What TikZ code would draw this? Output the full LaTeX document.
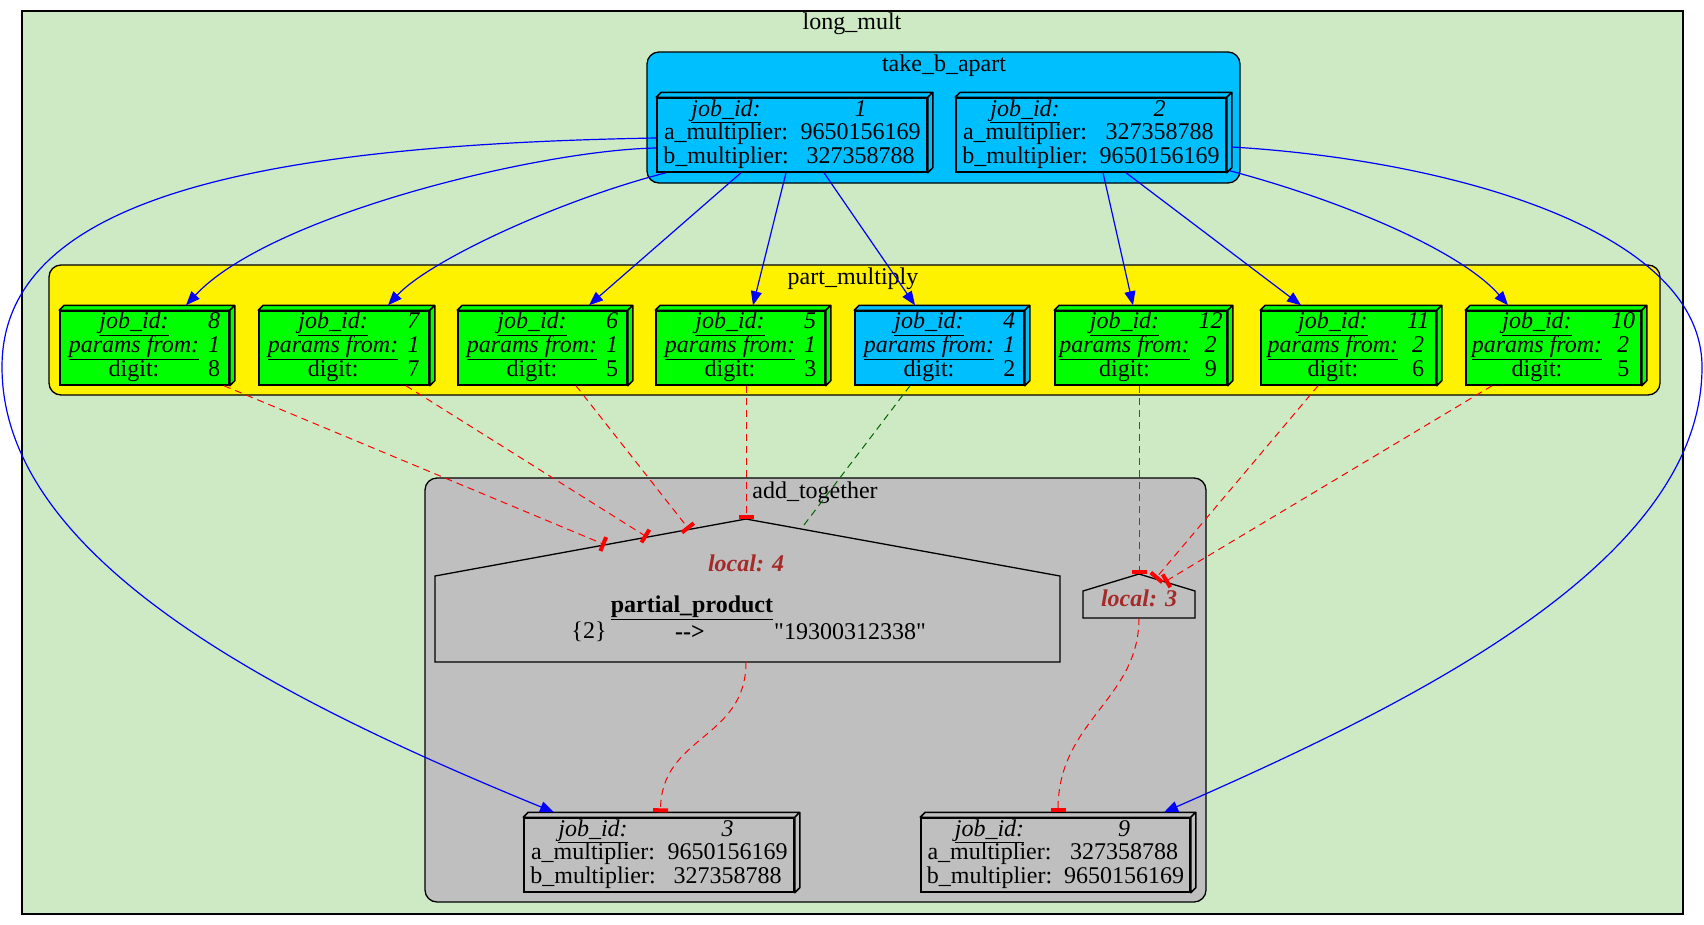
\documentclass[tikz,border=0pt]{standalone}
\usepackage{fontspec}
\setmainfont{Liberation Serif}
\newfontfamily\rawserif{Liberation Serif}
\usepackage{xcolor}
\usepackage{tikz}
\usetikzlibrary{calc, arrows.meta}

\definecolor{bgmult}{RGB}{205,234,197}
\definecolor{skyb}{RGB}{0,191,255}
\definecolor{grpart}{RGB}{0,255,0}
\definecolor{grayadd}{RGB}{191,191,191}
\definecolor{locbrown}{RGB}{165,42,42}
\definecolor{dkgreen}{RGB}{0,100,0}

% Bảng của một job: id, a_multiplier, b_multiplier
\newcommand\jobtab[3]{\raisebox{2.5pt}{\begin{tabular}{@{}c@{\hspace{12pt}}c@{}}
  \underline{\textit{job\_id:}} & \textit{#1}\\
  a\_multiplier: & #2\\
  b\_multiplier: & #3
\end{tabular}}}
% Bảng của một part_multiply: id, params from, digit
\newcommand\parttab[3]{\raisebox{2.5pt}{\begin{tabular}{@{}c@{\hspace{9pt}}c@{}}
  \underline{\textit{job\_id:}} & \textit{#1}\\
  \underline{\textit{params from:}} & \textit{#2}\\
  digit: & #3
\end{tabular}}}
% Mặt trên và mặt bên của hộp 3D
\newcommand\boxside[2]{%
  \draw[line width=1.5pt, line join=round, fill=#2]
    (#1.north west) -- ++(5,5) -- ($(#1.north east)+(5,5)$) -- ($(#1.south east)+(5,5)$)
    -- (#1.south east) -- (#1.north east) -- cycle
    (#1.north east) -- ++(5,5);}

\begin{document}
\begin{tikzpicture}[x=1pt, y=1pt, >={Triangle[length=14pt,width=11pt]},
    every node/.style={font=\fontsize{24}{23.5}\selectfont},
    cube/.style={draw, line width=1.5pt, inner sep=0pt, minimum height=74pt},
    clus/.style={draw, line width=1.3pt, rounded corners=12pt},
    feed/.style={->, blue, line width=1.2pt},
    dep/.style={red, line width=1pt, dash pattern=on 7pt off 5pt, -{Bar[width=15pt,line width=4pt]}},
    link/.style={dkgreen, line width=1pt, dash pattern=on 7pt off 5pt},
    house/.style={draw, line width=1.3pt, line join=miter},
    loc/.style={text=locbrown, font=\fontsize{24}{28}\selectfont\bfseries\itshape}]
    \useasboundingbox (0,0) rectangle (1704,-924);

    % Khung ngoài long_mult
    \draw[line width=2.5pt, fill=bgmult] (22,-11) rectangle (1683,-914);
    \node (tmult) at (852,-24) {long\_mult};

    % Cụm take_b_apart
    \draw[clus, fill=skyb] (647,-52) rectangle (1240,-183);
    \node (ttake) at (944,-66) {take\_b\_apart};
    \node[cube, fill=skyb, minimum width=270pt] (n1) at (792,-135) {\jobtab{1}{9650156169}{327358788}};
    \boxside{n1}{skyb}
    \node[cube, fill=skyb, minimum width=270pt] (n2) at (1091,-135) {\jobtab{2}{327358788}{9650156169}};
    \boxside{n2}{skyb}

    % Cụm part_multiply
    \draw[clus, fill=yellow] (49,-265) rectangle (1660,-395);
    \node (tpart) at (853,-279) {part\_multiply};
    \node[cube, fill=grpart, minimum width=169pt] (p8) at (144.5,-348) {\parttab{8}{1}{8}};
    \boxside{p8}{grpart}
    \node[cube, fill=grpart, minimum width=170pt] (p7) at (344,-348) {\parttab{7}{1}{7}};
    \boxside{p7}{grpart}
    \node[cube, fill=grpart, minimum width=169pt] (p6) at (542.5,-348) {\parttab{6}{1}{5}};
    \boxside{p6}{grpart}
    \node[cube, fill=grpart, minimum width=169pt] (p5) at (740.5,-348) {\parttab{5}{1}{3}};
    \boxside{p5}{grpart}
    \node[cube, fill=skyb, minimum width=169pt] (p4) at (939.5,-348) {\parttab{4}{1}{2}};
    \boxside{p4}{skyb}
    \node[cube, fill=grpart, minimum width=172pt] (p12) at (1141,-348) {\parttab{12}{2}{9}};
    \boxside{p12}{grpart}
    \node[cube, fill=grpart, minimum width=175pt] (p11) at (1348.5,-348) {\parttab{11}{2}{6}};
    \boxside{p11}{grpart}
    \node[cube, fill=grpart, minimum width=175pt] (p10) at (1553.5,-348) {\parttab{10}{2}{5}};
    \boxside{p10}{grpart}

    % Cụm add_together
    \draw[clus, fill=grayadd] (425,-478) rectangle (1206,-902);
    \node (tadd) at (815,-493) {add\_together};
    \draw[house] (435,-576) coordinate (l4nw) -- (746,-519) coordinate (l4apex)
        -- (1060,-576) coordinate (l4ne) -- (1060,-662) -- (435,-662) -- cycle;
    \coordinate (l4s) at (746,-662);
    \node[loc] (l4lbl) at (746,-563) {local: 4};
    \node (l4var) at (692,-608) {\textbf{\underline{partial\_product}}};
    \node (l4key) at (589,-632) {\{2\}};
    \node (l4arr) at (690,-632) {\textbf{-{}->}};
    \node (l4val) at (850,-632) {\rawserif "19300312338"};
    \draw[house] (1083,-591) coordinate (l3nw) -- (1139,-574) coordinate (l3apex)
        -- (1195,-591) coordinate (l3ne) -- (1195,-618) -- (1083,-618) -- cycle;
    \coordinate (l3s) at (1139,-618);
    \node[loc] (l3lbl) at (1139,-598) {local: 3};
    \node[cube, fill=grayadd, minimum width=270pt] (n3) at (659,-855) {\jobtab{3}{9650156169}{327358788}};
    \boxside{n3}{grayadd}
    \node[cube, fill=grayadd, minimum width=269pt] (n9) at (1055.5,-855) {\jobtab{9}{327358788}{9650156169}};
    \boxside{n9}{grayadd}

    % Cạnh xanh: take_b_apart sinh ra các job
    \draw[feed] ([yshift=-13pt]n1.west) .. controls (540,-150) and (270,-215) .. ([xshift=41.5pt,yshift=5pt]p8.north);
    \draw[feed] ([xshift=-126pt]n1.south) .. controls (560,-200) and (430,-260) .. ([xshift=44pt,yshift=5pt]p7.north);
    \draw[feed] ([xshift=-51pt]n1.south) -- ([xshift=46.5pt,yshift=5pt]p6.north);
    \draw[feed] ([xshift=-6pt]n1.south) -- ([xshift=12.5pt,yshift=5pt]p5.north);
    \draw[feed] ([xshift=32pt]n1.south) -- ([xshift=-24.5pt,yshift=5pt]p4.north);
    \draw[feed] ([xshift=12pt]n2.south) -- ([xshift=-8pt,yshift=5pt]p12.north);
    \draw[feed] ([xshift=35pt]n2.south) -- ([xshift=-47.5pt,yshift=5pt]p11.north);
    \draw[feed] ([xshift=3pt,yshift=2pt]n2.south east) .. controls (1340,-200) and (1460,-250) .. ([xshift=-45.5pt,yshift=5pt]p10.north);
    \draw[feed] ([yshift=-3pt]n1.west) .. controls (250,-145) and (2,-200) .. (2,-367)
        .. controls (2,-560) and (280,-700) .. ([xshift=-105pt,yshift=5pt]n3.north);
    \draw[feed] ([xshift=5pt,yshift=-12pt]n2.east) .. controls (1450,-160) and (1702,-230) .. (1702,-367)
        .. controls (1702,-560) and (1420,-700) .. ([xshift=108.5pt,yshift=5pt]n9.north);

    % Cạnh đỏ đứt nét: phụ thuộc
    \draw[dep] ([xshift=79.5pt]p8.south) -- ($(l4nw)!0.547!(l4apex)$);
    \draw[dep] ([xshift=62pt]p7.south) -- ($(l4nw)!0.682!(l4apex)$);
    \draw[dep] ([xshift=33.5pt]p6.south) -- ($(l4nw)!0.817!(l4apex)$);
    \draw[dep] ([xshift=5.5pt]p5.south) -- (l4apex);
    \draw[link] ([xshift=-29.5pt]p4.south) -- ($(l4apex)!0.175!(l4ne)$);
    \draw[dep] ([xshift=-2pt]p12.south) -- (l3apex);
    \draw[dep] ([xshift=-30.5pt]p11.south) -- ($(l3apex)!0.29!(l3ne)$);
    \draw[dep] ([xshift=-61.5pt]p10.south) -- ($(l3apex)!0.46!(l3ne)$);
    \draw[dep] (l4s) .. controls (746,-740) and (661,-735) .. ([xshift=1.5pt,yshift=5pt]n3.north);
    \draw[dep] (l3s) .. controls (1139,-700) and (1058,-720) .. ([xshift=2.5pt,yshift=5pt]n9.north);
\end{tikzpicture}
\end{document}
